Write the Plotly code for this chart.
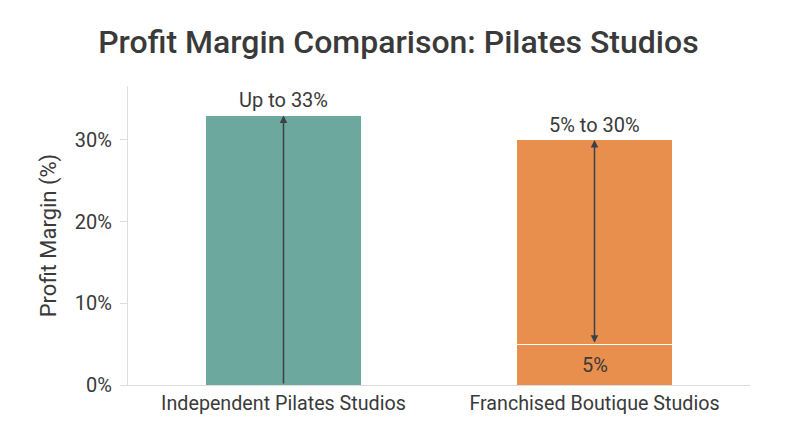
import plotly.graph_objects as go

# chart data
studios = ["Independent Pilates Studios", "Franchised Boutique Studios"]
low_margin = [0, 5]          # lower end of the range (%)
high_margin = [33, 30]       # upper end of the range (%)
top_labels = ["Up to 33%", "5% to 30%"]
base_label = "5%"
colors = ["#6da89f", "#e98f4d"]

# stack: base part (0 -> low) and range part (low -> high)
base_part = low_margin
range_part = [h - l for h, l in zip(high_margin, low_margin)]

fig = go.Figure()
fig.add_trace(go.Bar(
    x=studios, y=base_part,
    marker=dict(color=colors, line=dict(color="white", width=1)),
    width=0.5, showlegend=False, hoverinfo="skip",
))
fig.add_trace(go.Bar(
    x=studios, y=range_part,
    marker=dict(color=colors, line=dict(color="white", width=1)),
    width=0.5, showlegend=False,
))

# arrows across the range
for i, name in enumerate(studios):
    double = low_margin[i] > 0
    fig.add_annotation(
        x=name, y=high_margin[i], ax=name, ay=low_margin[i],
        xref="x", yref="y", axref="x", ayref="y",
        text="", showarrow=True, arrowhead=2, arrowsize=1, arrowwidth=1.5,
        arrowcolor="#3b4148",
        arrowside="end+start" if double else "end",
        startarrowhead=2, startarrowsize=1,
    )
    fig.add_annotation(
        x=name, y=high_margin[i], text=top_labels[i], showarrow=False,
        yanchor="bottom", yshift=1, font=dict(size=20, color="#3a3a3a"),
    )

# label inside the bottom segment of the franchise bar
fig.add_annotation(
    x=studios[1], y=low_margin[1] / 2, text=base_label, showarrow=False,
    font=dict(size=20, color="#3a3a3a"),
)

fig.update_layout(
    barmode="stack",
    width=800, height=447,
    margin=dict(l=120, r=58, t=78, b=70),
    paper_bgcolor="white", plot_bgcolor="white",
    font=dict(family="Roboto", color="#3a3a3a"),
    title=dict(text="Profit Margin Comparison: Pilates Studios",
               x=0.488, xanchor="center", y=0.924, yanchor="middle",
               font=dict(size=32, color="#3a3a3a", weight=500)),
    xaxis=dict(showline=True, linecolor="#dddddd", linewidth=1,
               tickfont=dict(size=19.7, color="#3a3a3a"), ticks=""),
    yaxis=dict(range=[0, 36.6], tickvals=[0, 10, 20, 30],
               ticktext=["0%", "10%", "20%", "30%"],
               showgrid=False, zeroline=False,
               showline=True, linecolor="#dddddd", linewidth=1,
               ticks="outside", ticklen=7, tickcolor="#dddddd",
               ticklabelstandoff=4,
               tickfont=dict(size=20, color="#3a3a3a"),
               title=dict(text="Profit Margin (%)", font=dict(size=22, color="#3a3a3a"),
                          standoff=12)),
)

fig.write_html("out.html")
